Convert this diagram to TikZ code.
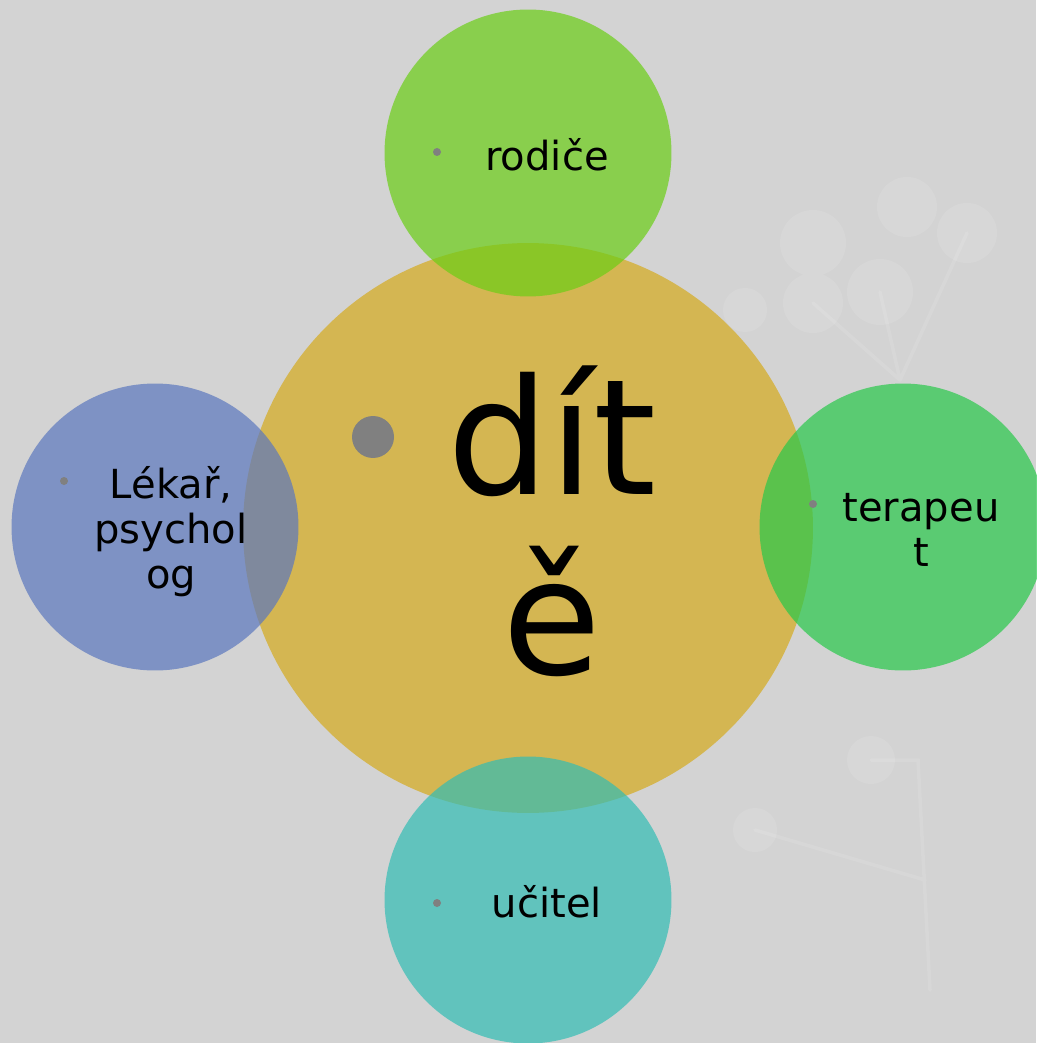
\documentclass[tikz,border=0pt]{standalone}
\usepackage{fontspec}
\setmainfont{DejaVu Sans}
\definecolor{canvas}{RGB}{211,211,211}
\definecolor{childyellow}{RGB}{212,182,82}
\definecolor{parentgreen}{RGB}{107,206,21}
\definecolor{doctorblue}{RGB}{91,119,190}
\definecolor{therapistgreen}{RGB}{39,200,74}
\definecolor{teacherteal}{RGB}{50,189,180}
\definecolor{bulletgray}{RGB}{128,128,128}
\tikzset{
  bubble/.style={circle,inner sep=0pt,minimum size=5.74cm,fill opacity=0.7},
  itemtext/.style={font=\fontsize{22.8}{25.6}\selectfont,align=center,inner sep=0pt},
  dot/.style={circle,fill=bulletgray,inner sep=0pt,minimum size=0.16cm},
  leaf/.style={white,opacity=0.1}
}
\begin{document}
\begin{tikzpicture}[x=0.02cm,y=-0.02cm]
\useasboundingbox (0,0) rectangle (1036,1043);
\fill[canvas] (0,0) rectangle (1036,1043);

% faint branch in the background
\begin{scope}[leaf]
\fill (813,243) circle (33) (880,292) circle (33) (813,303) circle (30)
      (907,207) circle (30) (967,233) circle (30) (745,310) circle (22)
      (871,760) circle (24) (755,830) circle (22);
\draw[line width=2pt,line cap=round] (900,380) -- (880,292) (900,380) -- (813,303)
      (900,380) -- (967,233) (930,990) -- (918,760) -- (871,760) (925,880) -- (755,830);
\end{scope}

% circles
\node[circle,inner sep=0pt,minimum size=11.4cm,fill=childyellow] (child) at (528,528) {};
\node[bubble,fill=parentgreen] (parents) at (528,153) {};
\node[bubble,fill=doctorblue] (doctor) at (155,527) {};
\node[bubble,fill=therapistgreen] (therapist) at (903,527) {};
\node[bubble,fill=teacherteal] (teacher) at (528,900) {};

% bullets
\node[dot] (dotparents) at (437,152) {};
\node[dot] (dotdoctor) at (64,481) {};
\node[dot] (dottherapist) at (813,504) {};
\node[dot] (dotteacher) at (437,903) {};
\node[dot,minimum size=0.84cm] (dotchild) at (373,437) {};

% texts
\node[font=\fontsize{91.6}{102.4}\selectfont,align=center,inner sep=0pt] (childtext) at (552,521) {dít\\ě};
\node[itemtext] (parentstext) at (547,155) {rodiče};
\node[itemtext] (doctortext) at (171,532) {Lékař,\\psychol\\og};
\node[itemtext] (therapisttext) at (921,530) {terapeu\\t};
\node[itemtext] (teachertext) at (547,902) {učitel};
\end{tikzpicture}
\end{document}
